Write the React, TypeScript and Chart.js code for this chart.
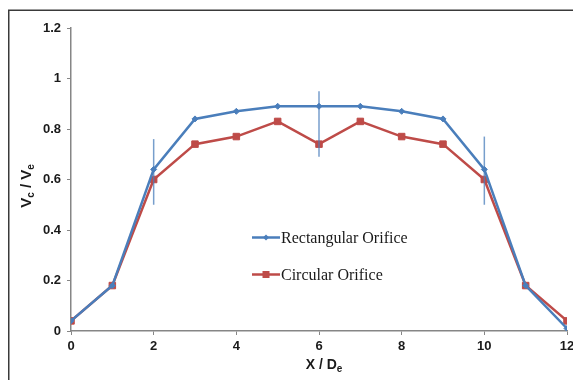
import React, { useEffect, useRef } from "react";
import { Chart, registerables } from "chart.js";

Chart.register(...registerables);

const xValues = [0, 1, 2, 3, 4, 5, 6, 7, 8, 9, 10, 11, 12];
const rectangular = [0.04, 0.18, 0.64, 0.84, 0.87, 0.89, 0.89, 0.89, 0.87, 0.84, 0.64, 0.18, 0.01];
const circular = [0.04, 0.18, 0.6, 0.74, 0.77, 0.83, 0.74, 0.83, 0.77, 0.74, 0.6, 0.18, 0.04];
const errX = [2, 6, 10];
const errHigh = [0.76, 0.95, 0.77];
const errLow = [0.5, 0.69, 0.5];
const seriesNames = ["Rectangular Orifice", "Circular Orifice"];

const BLUE = "#4A7EBB";
const RED = "#BE4B48";
const AXIS = "#868686";

function drawSubText(ctx: CanvasRenderingContext2D, parts: { t: string; sub?: boolean }[], x: number, y: number, big: number, small: number, align: "center" | "left") {
  const widths = parts.map((p) => {
    ctx.font = `bold ${p.sub ? small : big}px "Liberation Sans", Arial, sans-serif`;
    return ctx.measureText(p.t).width;
  });
  const total = widths.reduce((a, b) => a + b, 0);
  let cx = align === "center" ? x - total / 2 : x;
  parts.forEach((p, i) => {
    ctx.font = `bold ${p.sub ? small : big}px "Liberation Sans", Arial, sans-serif`;
    ctx.fillText(p.t, cx, p.sub ? y + 3 : y);
    cx += widths[i];
  });
}

const decorPlugin = {
  id: "decor",
  afterDatasetsDraw(chart: any) {
    const ctx = chart.ctx as CanvasRenderingContext2D;
    const xs = chart.scales.x;
    const ys = chart.scales.y;
    ctx.save();
    ctx.strokeStyle = "rgba(74,126,187,0.75)";
    ctx.lineWidth = 1.5;
    errX.forEach((v, i) => {
      const px = xs.getPixelForValue(v);
      ctx.beginPath();
      ctx.moveTo(px, ys.getPixelForValue(errHigh[i]));
      ctx.lineTo(px, ys.getPixelForValue(errLow[i]));
      ctx.stroke();
    });
    ctx.restore();
  },
  afterDraw(chart: any) {
    const ctx = chart.ctx as CanvasRenderingContext2D;
    ctx.save();
    ctx.strokeStyle = "#3a3a3a";
    ctx.lineWidth = 1.5;
    ctx.beginPath();
    ctx.moveTo(0.75, chart.height);
    ctx.lineTo(0.75, 2.25);
    ctx.lineTo(chart.width, 2.25);
    ctx.stroke();

    const rows = [
      { y: 229.5, color: BLUE, shape: "diamond" },
      { y: 266.5, color: RED, shape: "square" },
    ];
    rows.forEach((r, i) => {
      ctx.strokeStyle = r.color;
      ctx.lineWidth = 2.5;
      ctx.beginPath();
      ctx.moveTo(244, r.y);
      ctx.lineTo(272, r.y);
      ctx.stroke();
      ctx.fillStyle = r.color;
      ctx.beginPath();
      if (r.shape === "diamond") {
        ctx.moveTo(258, r.y - 3);
        ctx.lineTo(261, r.y);
        ctx.lineTo(258, r.y + 3);
        ctx.lineTo(255, r.y);
        ctx.closePath();
      } else {
        ctx.rect(254.5, r.y - 3.5, 7, 7);
      }
      ctx.fill();
      ctx.fillStyle = "#1a1a1a";
      ctx.font = '16px "Liberation Serif", "Times New Roman", serif';
      ctx.textBaseline = "middle";
      ctx.textAlign = "left";
      ctx.fillText(seriesNames[i], 273, r.y + 1);
    });

    ctx.fillStyle = "#1a1a1a";
    ctx.textBaseline = "alphabetic";
    ctx.textAlign = "left";
    drawSubText(ctx, [{ t: "X / D" }, { t: "e", sub: true }], 316, 361, 14, 10, "center");
    ctx.save();
    ctx.translate(23, 178);
    ctx.rotate(-Math.PI / 2);
    drawSubText(ctx, [{ t: "V" }, { t: "c", sub: true }, { t: " / V" }, { t: "e", sub: true }], 0, 0, 15, 10, "center");
    ctx.restore();
    ctx.restore();
  },
};

export default function App() {
  const ref = useRef<HTMLCanvasElement | null>(null);
  useEffect(() => {
    if (!ref.current) return;
    const tickFont = { family: '"Liberation Sans", Arial, sans-serif', size: 13, weight: "bold" as const };
    const chart = new Chart(ref.current, {
      type: "line",
      data: {
        datasets: [
          {
            label: seriesNames[0],
            data: xValues.map((x, i) => ({ x, y: rectangular[i] })),
            borderColor: BLUE,
            backgroundColor: BLUE,
            borderWidth: 2.5,
            pointStyle: "rectRot",
            pointRadius: 3,
            pointBorderWidth: 1,
            tension: 0,
          },
          {
            label: seriesNames[1],
            data: xValues.map((x, i) => ({ x, y: circular[i] })),
            borderColor: RED,
            backgroundColor: RED,
            borderWidth: 2.5,
            pointStyle: "rect",
            pointRadius: 4.6,
            pointBorderWidth: 1,
            tension: 0,
          },
        ],
      },
      options: {
        animation: false,
        responsive: false,
        layout: { padding: { top: 20, right: 14, left: 0, bottom: 0 } },
        plugins: { legend: { display: false }, tooltip: { enabled: false } },
        scales: {
          x: {
            type: "linear",
            min: 0,
            max: 12,
            afterFit: (s: any) => { s.height = 49; },
            ticks: { stepSize: 2, color: "#1a1a1a", font: tickFont, padding: 4, maxRotation: 0 },
            grid: { drawOnChartArea: false, drawTicks: true, tickLength: 4, color: AXIS, lineWidth: 1 },
            border: { color: AXIS, width: 1.5 },
          },
          y: {
            type: "linear",
            min: 0,
            max: 1.2,
            afterFit: (s: any) => { s.width = 63; },
            ticks: {
              stepSize: 0.2,
              color: "#1a1a1a",
              font: tickFont,
              padding: 6,
              callback: (v: any) => String(Number(Number(v).toFixed(1))),
            },
            grid: { drawOnChartArea: false, drawTicks: true, tickLength: 4, color: AXIS, lineWidth: 1 },
            border: { color: AXIS, width: 1.5 },
          },
        },
      },
      plugins: [decorPlugin],
    });
    return () => chart.destroy();
  }, []);
  return (
    <div style={{ width: 573, height: 372 }}>
      <canvas ref={ref} width={573} height={372} style={{ display: "block", width: 573, height: 372 }} />
    </div>
  );
}
